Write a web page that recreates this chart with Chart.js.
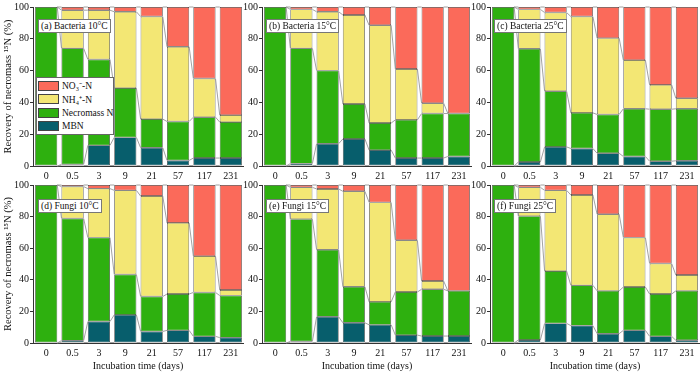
<!DOCTYPE html>
<html>
<head>
<meta charset="utf-8">
<script src="https://cdn.jsdelivr.net/npm/chart.js@4"></script>
<style>
  body { margin: 0; background: #fff; }
  #wrap { position: relative; width: 700px; height: 374px; overflow: hidden; font-family: "Liberation Serif", serif; }
  canvas { position: absolute; }
  .tag { position: absolute; background: #fff; border: 1px solid #777; font-size: 9.5px; line-height: 12px; padding: 0 2px; color: #111; white-space: nowrap; }
  #legend { position: absolute; left: 36px; top: 77px; width: 76px; height: 55px; padding-top: 1px; background: #fff; border: 1px solid #666; font-size: 9.5px; color: #111; white-space: nowrap; }
  #legend .row { height: 13.5px; display: flex; align-items: center; }
  #legend .sw { width: 21px; height: 10px; margin: 0 3px 0 1px; box-sizing: border-box; border: 1px solid #444; flex: none; }
  .xtitle { position: absolute; top: 360px; width: 210px; text-align: center; font-size: 10px; line-height: 12px; color: #111; }
</style>
</head>
<body>
<div id="wrap">
  <canvas id="pa" width="244" height="180" style="left:0;top:0"></canvas>
  <canvas id="pb" width="231" height="180" style="left:241px;top:0"></canvas>
  <canvas id="pc" width="231" height="180" style="left:469px;top:0"></canvas>
  <canvas id="pd" width="244" height="196" style="left:0;top:178px"></canvas>
  <canvas id="pe" width="231" height="196" style="left:241px;top:178px"></canvas>
  <canvas id="pf" width="231" height="196" style="left:469px;top:178px"></canvas>

  <div class="tag" style="left:38px;top:19px">(a) Bacteria 10°C</div>
  <div class="tag" style="left:266px;top:19px">(b) Bacteria 15°C</div>
  <div class="tag" style="left:494px;top:19px">(c) Bacteria 25°C</div>
  <div class="tag" style="left:38px;top:199px">(d) Fungi 10°C</div>
  <div class="tag" style="left:266px;top:199px">(e) Fungi 15°C</div>
  <div class="tag" style="left:494px;top:199px">(f) Fungi 25°C</div>

  <div id="legend">
    <div class="row"><span class="sw" style="background:#fb6a5a"></span>NO₃⁻-N</div>
    <div class="row"><span class="sw" style="background:#f3e774"></span>NH₄⁺-N</div>
    <div class="row"><span class="sw" style="background:#2eb00f"></span>Necromass N</div>
    <div class="row"><span class="sw" style="background:#075e6c"></span>MBN</div>
  </div>

  <div class="xtitle" style="left:33px">Incubation time (days)</div>
  <div class="xtitle" style="left:262px">Incubation time (days)</div>
  <div class="xtitle" style="left:490px">Incubation time (days)</div>
</div>

<script>
const days = ["0", "0.5", "3", "9", "21", "57", "117", "231"];
const yTicks = [0, 20, 40, 60, 80, 100];

// percentages of recovered 15N, bottom to top: MBN, Necromass N, NH4+-N, NO3--N
const bac10MBN = [0, 1, 13, 18, 11.5, 3.5, 5, 5];
const bac10Nec = [100, 73, 54, 31, 18, 24.5, 25.7, 22.6];
const bac10NH4 = [0, 24, 31, 48, 64.5, 47, 24.3, 4.4];
const bac10NO3 = [0, 2, 2, 3, 6, 25, 45, 68];

const bac15MBN = [0, 1.5, 14, 17, 10, 5, 5, 6];
const bac15Nec = [100, 72.5, 46, 22, 17, 24, 28, 27];
const bac15NH4 = [0, 24.5, 37, 56, 61.5, 32, 6.5, 0];
const bac15NO3 = [0, 1.5, 3, 5, 11.5, 39, 60.5, 67];

const bac25MBN = [0, 2.5, 12, 11, 8, 6, 3, 3.3];
const bac25Nec = [100, 71.2, 35, 22.4, 24.4, 30, 32.7, 32.7];
const bac25NH4 = [0, 24.8, 49.5, 60.6, 48, 30.6, 15.3, 6.6];
const bac25NO3 = [0, 1.5, 3.5, 6, 19.6, 33.4, 49, 57.4];

const fun10MBN = [0, 1.5, 13.6, 17.8, 7.3, 8, 4.2, 3.4];
const fun10Nec = [100, 77.3, 53.1, 25.6, 22.1, 23, 27.8, 26.6];
const fun10NH4 = [0, 20.2, 31, 53.2, 63.6, 45, 23, 3.5];
const fun10NO3 = [0, 1, 2.3, 3.4, 7, 24, 45, 66.5];

const fun15MBN = [0, 1, 16.6, 12.8, 11.5, 5, 4.4, 4.4];
const fun15Nec = [100, 77.4, 42.4, 22.8, 14.5, 27.3, 29.6, 28.6];
const fun15NH4 = [0, 20.1, 38.5, 60.4, 63, 32.7, 5.2, 0];
const fun15NO3 = [0, 1.5, 2.5, 4, 11, 35, 60.8, 67];

const fun25MBN = [0, 1.9, 12.4, 11, 5.9, 8, 4.2, 1.7];
const fun25Nec = [100, 78.4, 33.1, 25.5, 27.1, 27.4, 26.8, 31.3];
const fun25NH4 = [0, 18.2, 51.1, 57.2, 48.5, 31.3, 19.3, 10];
const fun25NO3 = [0, 1.5, 3.4, 6.3, 18.5, 33.3, 49.7, 57];

const colors = ["#075e6c", "#2eb00f", "#f3e774", "#fb6a5a"];
const names = ["MBN", "Necromass N", "NH4+-N", "NO3--N"];
const serif = "'Liberation Serif', 'Times New Roman', serif";

// thin grey lines joining the tops of each stack segment
const linkLines = {
  id: "linkLines",
  afterDatasetsDraw(chart) {
    const ctx = chart.ctx;
    ctx.save();
    ctx.strokeStyle = "#8a8a8a";
    ctx.lineWidth = 0.8;
    chart.data.datasets.forEach((ds, d) => {
      const bars = chart.getDatasetMeta(d).data;
      for (let i = 0; i < bars.length - 1; i++) {
        const a = bars[i], b = bars[i + 1];
        ctx.beginPath();
        ctx.moveTo(a.x + a.width / 2, a.y);
        ctx.lineTo(b.x - b.width / 2, b.y);
        ctx.stroke();
        if (d === 0) {
          ctx.beginPath();
          ctx.moveTo(a.x + a.width / 2, a.base);
          ctx.lineTo(b.x - b.width / 2, b.base);
          ctx.stroke();
        }
      }
    });
    ctx.restore();
  }
};

function makePanel(id, series, yWidth, xHeight, showTitle) {
  const datasets = series.map((vals, k) => ({
    label: names[k],
    data: vals,
    backgroundColor: colors[k],
    borderColor: "#3a3a3a",
    borderWidth: 0.7,
    borderSkipped: false,
    barPercentage: 0.84,
    categoryPercentage: 1
  }));
  return new Chart(document.getElementById(id), {
    type: "bar",
    data: { labels: days, datasets: datasets },
    plugins: [linkLines],
    options: {
      responsive: false,
      animation: false,
      devicePixelRatio: 1,
      layout: { padding: { top: 6, right: 0, left: 0, bottom: 0 } },
      plugins: { legend: { display: false }, tooltip: { enabled: false } },
      scales: {
        x: {
          stacked: true,
          grid: { display: false, drawTicks: false, tickLength: 0 },
          border: { display: true, color: "#333", width: 1 },
          ticks: { color: "#111", font: { family: serif, size: 10 }, padding: 4 },
          afterFit: (s) => { s.height = xHeight; }
        },
        y: {
          stacked: true,
          min: 0,
          max: 100,
          afterBuildTicks: (s) => { s.ticks = yTicks.map(v => ({ value: v })); },
          grid: { drawOnChartArea: false, drawTicks: true, tickLength: 3, color: "#333" },
          border: { display: true, color: "#333", width: 1 },
          ticks: { color: "#111", font: { family: serif, size: 10 }, padding: 1 },
          title: {
            display: showTitle,
            text: "Recovery of necromass ¹⁵N (%)",
            color: "#111",
            font: { family: serif, size: 10.5 },
            padding: { top: 2, bottom: 0 }
          },
          afterFit: (s) => { s.width = yWidth; }
        }
      }
    }
  });
}

makePanel("pa", [bac10MBN, bac10Nec, bac10NH4, bac10NO3], 33, 14, true);
makePanel("pb", [bac15MBN, bac15Nec, bac15NH4, bac15NO3], 21, 14, false);
makePanel("pc", [bac25MBN, bac25Nec, bac25NH4, bac25NO3], 21, 14, false);
makePanel("pd", [fun10MBN, fun10Nec, fun10NH4, fun10NO3], 33, 31, true);
makePanel("pe", [fun15MBN, fun15Nec, fun15NH4, fun15NO3], 21, 31, false);
makePanel("pf", [fun25MBN, fun25Nec, fun25NH4, fun25NO3], 21, 31, false);
</script>
</body>
</html>
